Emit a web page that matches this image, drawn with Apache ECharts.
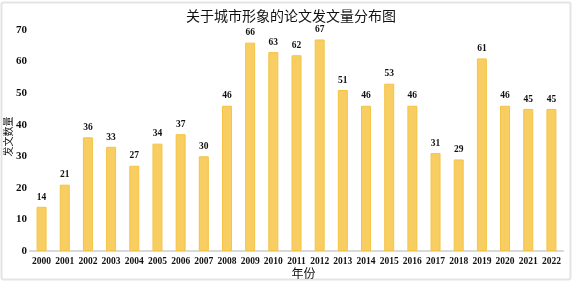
<!DOCTYPE html>
<html><head><meta charset="utf-8">
<script src="https://cdn.jsdelivr.net/npm/echarts@6/dist/echarts.min.js"></script>
<style>html,body{margin:0;padding:0;background:#fff}#c{width:573px;height:282px}</style>
</head><body><div id="c"></div>
<script>
const years = ['2000','2001','2002','2003','2004','2005','2006','2007','2008','2009','2010','2011','2012','2013','2014','2015','2016','2017','2018','2019','2020','2021','2022'];
const counts = [14,21,36,33,27,34,37,30,46,66,63,62,67,51,46,53,46,31,29,61,46,45,45];
const yTicks = [0,10,20,30,40,50,60,70];
const titleText = '关于城市形象的论文发文量分布图';
const xName = '年份';
const yName = '发文数量';

const serif = '"Liberation Serif","Noto Sans CJK SC",serif';
const chart = echarts.init(document.getElementById('c'), null, {renderer:'canvas'});
chart.setOption({
  animation:false,
  graphic:[{type:'rect',shape:{x:1.5,y:2.5,width:569,height:277,r:2},style:{fill:'none',stroke:'#e4e4e4',lineWidth:2},silent:true,z:-1}],
  title:{text:titleText,left:286,textAlign:'center',top:4,textStyle:{fontFamily:'"Noto Sans CJK SC",serif',fontSize:14,fontWeight:'normal',color:'#111'}},
  grid:{left:30,right:10,top:30,bottom:31,containLabel:false,outerBoundsMode:'none'},
  xAxis:{type:'category',data:years,name:xName,nameLocation:'middle',nameGap:16,nameMoveOverlap:false,
    nameTextStyle:{fontFamily:'"Noto Sans CJK SC",serif',fontSize:12,color:'#111',padding:[0,0,0,14]},
    axisLine:{lineStyle:{color:'#d9d9d9',width:2}},axisTick:{show:false},
    axisLabel:{interval:0,margin:6,fontFamily:serif,fontWeight:'bold',fontSize:9.5,color:'#111'}},
  yAxis:{type:'value',min:yTicks[0],max:yTicks[yTicks.length-1],interval:10,name:yName,nameLocation:'middle',nameRotate:90,nameGap:17,nameMoveOverlap:false,
    nameTextStyle:{fontFamily:'"Noto Sans CJK SC",serif',fontSize:10,color:'#111',padding:[0,0,0,8]},
    axisLine:{show:false},axisTick:{show:false},splitLine:{show:false},
    axisLabel:{margin:3,fontFamily:serif,fontWeight:'bold',fontSize:11,color:'#111'}},
  series:[{type:'bar',data:counts,barWidth:10,
    itemStyle:{color:'#F8CD62',borderColor:'#F4C444',borderWidth:1},
    label:{show:true,position:'top',distance:5,fontFamily:serif,fontWeight:'bold',fontSize:9.5,color:'#111'}}]
});
</script></body></html>
